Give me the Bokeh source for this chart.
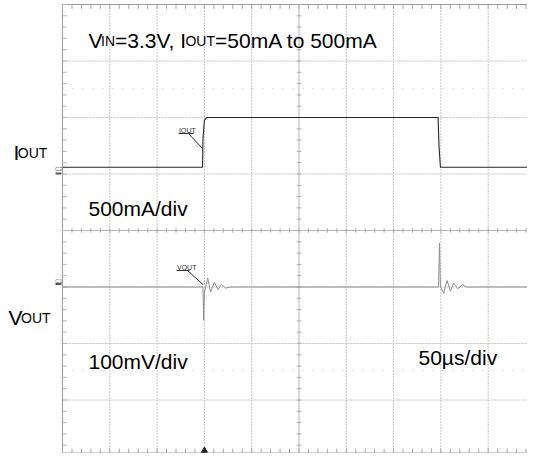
import numpy as np
from bokeh.plotting import figure
from bokeh.models import Range1d, Label
from bokeh.embed import file_html
from bokeh.resources import INLINE

# ---------------- data (time in divisions of 50us, level in divisions) ----------------
iout_t = [0.0, 2.96, 2.97, 3.0, 3.05, 3.1, 7.94, 7.96, 7.99, 10.0]
iout_v = [5.12, 5.12, 5.63, 5.95, 6.0, 6.0, 6.0, 5.5, 5.12, 5.12]

vout_t = [0.0, 2.97, 2.985, 3.0, 3.07, 3.13, 3.21, 3.29, 3.36, 3.45, 3.55,
          7.95, 7.97, 7.99, 8.06, 8.13, 8.2, 8.27, 8.36, 8.45, 8.55, 10.0]
vout_v = [3.0, 3.0, 2.41, 2.9, 3.16, 2.91, 3.085, 2.95, 3.044, 2.98, 3.0,
          3.0, 3.775, 3.0, 2.89, 3.115, 2.926, 3.067, 2.968, 3.04, 3.0, 3.0]

x_divs = list(range(0, 11))
y_divs = list(range(0, 9))
cursor_levels = [6.51, 1.52]
trigger_t = [3.0]

# ---------------- geometry helpers (reference pixel -> data) ----------------
PX_X = 47.3   # px per x division
PX_Y = 56.5   # px per y division
LEFT = 62     # screen x of t=0
BASE = 456    # screen y of level 0

def X(sx):
    return (sx - LEFT) / PX_X

def Y(sy):
    return (BASE - sy) / PX_Y

W, H = 527, 453
p = figure(width=W, height=H, output_backend="svg", toolbar_location=None,
           x_range=Range1d(X(0), X(W)), y_range=Range1d(Y(H), Y(0)),
           min_border=0)
p.axis.visible = False
p.xgrid.visible = False
p.ygrid.visible = False
p.outline_line_color = None
p.background_fill_color = "white"
p.border_fill_color = "white"

bottom = Y(452.5)

# inner grid lines
gx = [v for v in x_divs if v not in (0, 5, 10)]
gy = [v for v in y_divs if v not in (0, 4, 8)]
p.segment(x0=gx, y0=[bottom] * len(gx), x1=gx, y1=[8] * len(gx),
          line_color="#c4c4c4", line_width=1, line_dash="2 1")
p.segment(x0=[0] * len(gy), y0=gy, x1=[10] * len(gy), y1=gy,
          line_color="#c4c4c4", line_width=1, line_dash="2 1")

# cursor dotted lines
p.segment(x0=[0] * 2, y0=cursor_levels, x1=[10] * 2, y1=cursor_levels,
          line_color="#c0c0c0", line_width=1, line_dash="1 9")

# border
p.segment(x0=[0, 0, 0], y0=[bottom, 8, bottom], x1=[10, 10, 0], y1=[bottom, 8, 8],
          line_color="#9a9a9a", line_width=1)

# centre axes
p.segment(x0=[5, 0], y0=[bottom, 4], x1=[5, 10], y1=[8, 4], line_color="#b4b4b4", line_width=1)

# minor ticks
mx = np.arange(0, 10.001, 0.2)
my = np.arange(0.2, 8.001, 0.2)
tx = 2.2 / PX_X
ty = 2.2 / PX_Y
p.segment(x0=5 - tx, y0=my, x1=5 + tx, y1=my, line_color="#a8a8a8", line_width=1)
p.segment(x0=mx, y0=4 - ty, x1=mx, y1=4 + ty, line_color="#a8a8a8", line_width=1)
p.segment(x0=mx, y0=bottom, x1=mx, y1=bottom + 2 * ty, line_color="#a8a8a8", line_width=1)
p.segment(x0=mx, y0=8, x1=mx, y1=8 - 2 * ty, line_color="#a8a8a8", line_width=1)
p.segment(x0=0, y0=my, x1=2 * tx, y1=my, line_color="#b8b8b8", line_width=1)

# traces
p.line(iout_t, iout_v, line_color="#262626", line_width=1.1)
p.line(vout_t, vout_v, line_color="#8f8f8f", line_width=1.0)

# trigger marker
p.scatter(trigger_t, [Y(450)], marker="triangle", size=6,
          fill_color="#222222", line_color="#222222")

# channel markers
p.segment(x0=[X(55), X(55)], y0=[Y(173), Y(283.5)], x1=[X(61), X(61)], y1=[Y(173), Y(283.5)],
          line_color="#555555", line_width=2)
FONT = "Liberation Sans"

def lab(sx, sy, txt, size, color="black"):
    p.add_layout(Label(x=X(sx), y=Y(sy), text=txt, text_font=FONT,
                       text_font_size=f"{size}px", text_color=color,
                       text_baseline="alphabetic", text_align="left"))

lab(54.5, 168, "C2", 6, "#555555")
lab(54.5, 280, "C1", 6, "#777777")

# callouts
lab(178.5, 130, "IOUT", 7, "#333333")
p.segment(x0=[X(178), X(188)], y0=[Y(133), Y(133)], x1=[X(193), X(202)], y1=[Y(133), Y(148)],
          line_color="#333333", line_width=1)
lab(176.5, 267, "VOUT", 7, "#333333")
p.segment(x0=[X(176), X(187)], y0=[Y(270), Y(270)], x1=[X(189), X(202.5)], y1=[Y(270), Y(284)],
          line_color="#333333", line_width=1)

# big texts
BIG = 21
SUB = 14
wV = 0.667 * BIG - 1.5
wIN = 1.0 * SUB
wMid = 3.475 * BIG - 2.5
wOUT = 2.111 * SUB
x0 = 88
base = 40
lab(x0, base, "V", BIG)
lab(x0 + wV, base, "IN", SUB)
lab(x0 + wV + wIN, base, "=3.3V, I", BIG)
lab(x0 + wV + wIN + wMid, base, "OUT", SUB)
lab(x0 + wV + wIN + wMid + wOUT, base, "=50mA to 500mA", BIG)

lab(13, 152, "I", BIG)
lab(13 + 0.278 * BIG - 1.5, 152, "OUT", SUB)
lab(8, 317, "V", BIG)
lab(8 + 0.667 * BIG - 1.5, 317, "OUT", SUB)

lab(88, 208, "500mA/div", BIG)
lab(88, 361, "100mV/div", BIG)
lab(418, 357, "50µs/div", BIG)

open("out.html", "w").write(file_html(p, INLINE))
